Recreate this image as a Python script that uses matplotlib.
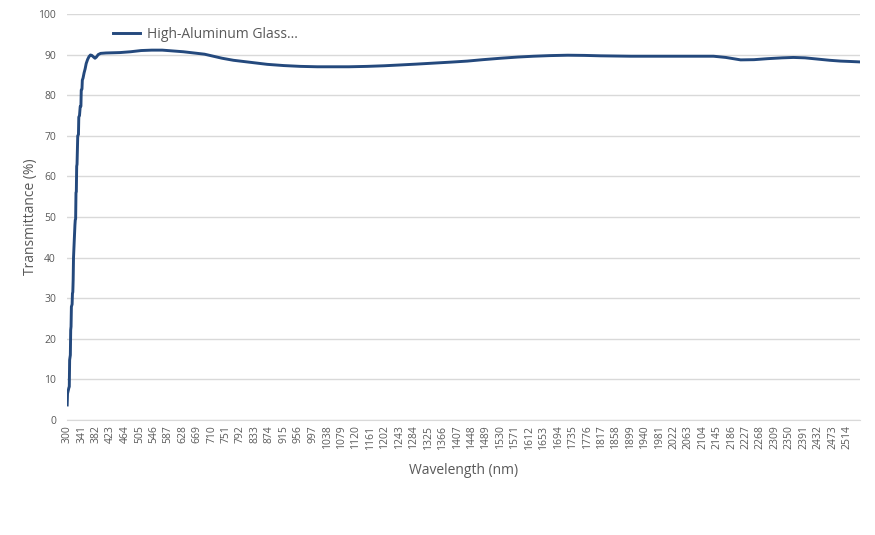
import matplotlib.pyplot as plt

# wavelength (nm) and transmittance (%)
wavelength = [
    300, 301, 305, 306, 307, 309, 310, 311, 312, 314, 315, 316, 317, 318,
    320, 321, 322, 323, 324, 325, 326, 327, 328, 329, 330, 332, 333, 335,
    337, 339, 340, 342, 343, 345, 348, 351, 354, 358, 362, 366, 370, 375,
    379, 383, 388, 395, 410, 450, 480, 510, 540, 570, 600, 630, 660, 690,
    715, 740, 772, 820, 868, 915, 962, 1010, 1056, 1100, 1152, 1200, 1246,
    1290, 1340, 1390, 1436, 1480, 1530, 1580, 1624, 1670, 1721, 1770, 1814,
    1900, 2004, 2080, 2135, 2170, 2212, 2250, 2289, 2330, 2362, 2395, 2430,
    2465, 2496, 2525, 2550,
]
transmittance = [
    3.7, 6.5, 8.0, 8.2, 14.8, 16.0, 22.2, 23.0, 27.9, 28.5, 31.2, 31.5, 34.5, 40.0,
    44.0, 46.0, 48.0, 49.3, 49.5, 56.0, 56.2, 62.5, 63.0, 66.5, 70.0, 70.3, 74.6, 75.0,
    77.2, 77.3, 81.3, 81.5, 83.7, 84.2, 85.5, 86.5, 87.8, 88.8, 89.5, 89.9, 89.8, 89.4,
    89.1, 89.4, 90.0, 90.3, 90.4, 90.5, 90.7, 91.0, 91.1, 91.1, 90.9, 90.7, 90.4, 90.1,
    89.6, 89.1, 88.6, 88.1, 87.6, 87.3, 87.1, 87.0, 87.0, 87.0, 87.1, 87.25, 87.45,
    87.65, 87.9, 88.15, 88.4, 88.75, 89.1, 89.4, 89.6, 89.75, 89.85, 89.8, 89.7,
    89.6, 89.6, 89.6, 89.6, 89.3, 88.7, 88.75, 89.0, 89.2, 89.3, 89.2, 88.9,
    88.6, 88.4, 88.3, 88.2,
]
tick_wavelengths = list(range(300, 2515, 41))
y_ticks = list(range(0, 101, 10))

series_label = "High-Aluminum Glass..."
line_color = "#24497D"
text_color = "#595959"
grid_color = "#D9D9D9"

plt.rcParams["font.family"] = ["Open Sans", "DejaVu Sans"]

fig = plt.figure(figsize=(8.75, 5.35), dpi=100)
ax = fig.add_axes((67 / 875, 1 - 420 / 535, 793 / 875, 406 / 535))

ax.plot(wavelength, transmittance, color=line_color, lw=2.1,
        solid_joinstyle="round", label=series_label)

ax.set_xlim(299.5, 2551)
ax.set_ylim(0, 100)
ax.set_xticks(tick_wavelengths)
ax.set_xticklabels([str(t) for t in tick_wavelengths], rotation=90)
ax.set_yticks(y_ticks)

ax.tick_params(axis="both", length=0, colors=text_color, labelsize=7.5)
ax.tick_params(axis="x", pad=4)
ax.tick_params(axis="y", pad=8)
ax.grid(axis="y", color=grid_color, lw=1)
ax.set_axisbelow(True)
for side in ["top", "right", "left"]:
    ax.spines[side].set_visible(False)
ax.spines["bottom"].set_color(grid_color)

ax.set_xlabel("Wavelength (nm)", color=text_color, fontsize=10, labelpad=10)
ax.set_ylabel("Transmittance (%)", color=text_color, fontsize=10, labelpad=0)

ax.legend(loc="upper left", bbox_to_anchor=(0.058, 0.968), frameon=False,
          fontsize=10, labelcolor=text_color, borderpad=0, borderaxespad=0,
          handlelength=1.95, handletextpad=0.5)

fig.savefig("out.png", dpi=100)
